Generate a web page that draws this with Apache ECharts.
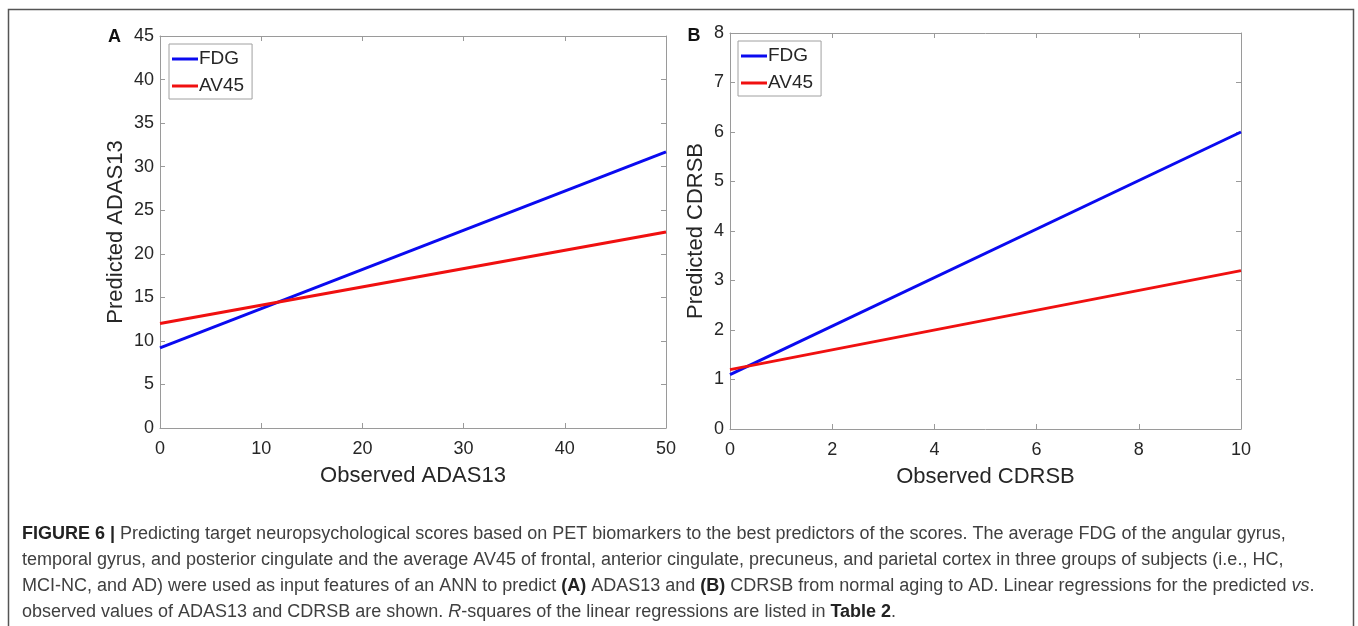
<!DOCTYPE html>
<html>
<head>
<meta charset="utf-8">
<script src="https://cdn.jsdelivr.net/npm/echarts@6/dist/echarts.min.js"></script>
<style>
html,body{margin:0;padding:0;background:#fff;}
#chart{width:1358px;height:626px;}
</style>
</head>
<body>
<div id="chart"></div>
<script>
// ---- Data ----
const seriesNames = ['FDG', 'AV45'];
// Panel A: ADAS13
const observedA = [0, 50];
const fdgA = [9.2, 31.7];
const av45A = [12.0, 22.5];
// Panel B: CDRSB
const observedB = [0, 10];
const fdgB = [1.1, 6.0];
const av45B = [1.2, 3.2];
// Axis ticks
const xTicksA = [0, 10, 20, 30, 40, 50];
const yTicksA = [0, 5, 10, 15, 20, 25, 30, 35, 40, 45];
const xTicksB = [0, 2, 4, 6, 8, 10];
const yTicksB = [0, 1, 2, 3, 4, 5, 6, 7, 8];
const axisTitles = {
  xA: 'Observed ADAS13', yA: 'Predicted ADAS13',
  xB: 'Observed CDRSB', yB: 'Predicted CDRSB'
};
const panelLabels = ['A', 'B'];
const captionLines = [
  '{b|FIGURE 6 |} Predicting target neuropsychological scores based on PET biomarkers to the best predictors of the scores. The average FDG of the angular gyrus,',
  'temporal gyrus, and posterior cingulate and the average AV45 of frontal, anterior cingulate, precuneus, and parietal cortex in three groups of subjects (i.e., HC,',
  'MCI-NC, and AD) were used as input features of an ANN to predict {b|(A)} ADAS13 and {b|(B)} CDRSB from normal aging to AD. Linear regressions for the predicted {i|vs}.',
  'observed values of ADAS13 and CDRSB are shown. {i|R}-squares of the linear regressions are listed in {b|Table 2}.'
];

// ---- Styles ----
const FONT = 'Liberation Sans, Arial, Helvetica, sans-serif';
const AXIS_COLOR = '#9a9a9a';
const TEXT_COLOR = '#262626';
const BLUE = '#0a0af0';
const RED = '#f01010';
const CAP_SIZE = 18;

function zip(xs, ys) { return xs.map((x, i) => [x, ys[i]]); }

function mainX(gi, ticks, name) {
  return {
    type: 'value', gridIndex: gi, position: 'bottom',
    min: ticks[0], max: ticks[ticks.length - 1], interval: ticks[1] - ticks[0],
    name: name, nameLocation: 'middle', nameGap: 37,
    nameTextStyle: { fontFamily: FONT, fontSize: 22, color: TEXT_COLOR },
    axisLine: { show: true, onZero: false, lineStyle: { color: AXIS_COLOR, width: 1 } },
    axisTick: { show: true, inside: true, length: 5, lineStyle: { color: AXIS_COLOR } },
    axisLabel: { margin: 12, fontFamily: FONT, fontSize: 18, color: TEXT_COLOR },
    splitLine: { show: false }
  };
}
function mainY(gi, ticks, name, gap) {
  return {
    type: 'value', gridIndex: gi, position: 'left',
    min: ticks[0], max: ticks[ticks.length - 1], interval: ticks[1] - ticks[0],
    name: name, nameLocation: 'middle', nameGap: gap,
    nameTextStyle: { fontFamily: FONT, fontSize: 22, color: TEXT_COLOR },
    axisLine: { show: true, onZero: false, lineStyle: { color: AXIS_COLOR, width: 1 } },
    axisTick: { show: true, inside: true, length: 5, lineStyle: { color: AXIS_COLOR } },
    axisLabel: { margin: 6, fontFamily: FONT, fontSize: 18, color: TEXT_COLOR },
    splitLine: { show: false }
  };
}
function boxX(gi, ticks) {
  return {
    type: 'value', gridIndex: gi, position: 'top',
    min: ticks[0], max: ticks[ticks.length - 1], interval: ticks[1] - ticks[0],
    axisLine: { show: true, onZero: false, lineStyle: { color: AXIS_COLOR, width: 1 } },
    axisTick: { show: true, inside: true, length: 5, lineStyle: { color: AXIS_COLOR } },
    axisLabel: { show: false }, splitLine: { show: false }
  };
}
function boxY(gi, ticks) {
  return {
    type: 'value', gridIndex: gi, position: 'right',
    min: ticks[0], max: ticks[ticks.length - 1], interval: ticks[1] - ticks[0],
    axisLine: { show: true, onZero: false, lineStyle: { color: AXIS_COLOR, width: 1 } },
    axisTick: { show: true, inside: true, length: 5, lineStyle: { color: AXIS_COLOR } },
    axisLabel: { show: false }, splitLine: { show: false }
  };
}
function legend(left, top) {
  return {
    left: left, top: top, orient: 'vertical',
    data: seriesNames.map(n => ({ name: n, icon: 'rect' })),
    itemWidth: 26, itemHeight: 3, itemGap: 7,
    padding: [5, 8, 3, 3],
    borderColor: '#a0a0a0', borderWidth: 1, backgroundColor: '#fff',
    textStyle: { fontFamily: FONT, fontSize: 19, color: TEXT_COLOR, lineHeight: 20, padding: [0, 0, 0, -4] },
    selectedMode: false
  };
}
function lineSeries(name, xi, yi, data, color) {
  return {
    name: name, type: 'line', xAxisIndex: xi, yAxisIndex: yi, data: data,
    symbol: 'none', color: color, lineStyle: { color: color, width: 3 },
    animation: false, silent: true
  };
}

const graphics = [
  { type: 'rect', shape: { x: 8.5, y: 9.5, width: 1345, height: 700 },
    style: { fill: 'none', stroke: '#555', lineWidth: 1.5 }, silent: true },
  { type: 'text', x: 114.5, y: 37, style: { text: panelLabels[0], fontFamily: FONT, fontSize: 18, fontWeight: 'bold', fill: '#111', align: 'center', verticalAlign: 'middle' } },
  { type: 'text', x: 694, y: 36, style: { text: panelLabels[1], fontFamily: FONT, fontSize: 18, fontWeight: 'bold', fill: '#111', align: 'center', verticalAlign: 'middle' } }
];
const captionY = [534, 560, 586, 612];
captionLines.forEach((t, i) => {
  graphics.push({
    type: 'text', x: 22, y: captionY[i],
    style: {
      text: t, fontFamily: FONT, fontSize: CAP_SIZE, fill: '#404040',
      verticalAlign: 'middle', align: 'left',
      rich: {
        b: { fontFamily: FONT, fontSize: CAP_SIZE, fontWeight: 'bold', fill: '#222' },
        i: { fontFamily: FONT, fontSize: CAP_SIZE, fontStyle: 'italic', fill: '#404040' }
      }
    }
  });
});

const option = {
  backgroundColor: '#fff',
  animation: false,
  grid: [
    { left: 160, top: 36, width: 506, height: 392, containLabel: false },
    { left: 730, top: 33, width: 511, height: 396, containLabel: false }
  ],
  xAxis: [ mainX(0, xTicksA, axisTitles.xA), boxX(0, xTicksA), mainX(1, xTicksB, axisTitles.xB), boxX(1, xTicksB) ],
  yAxis: [ mainY(0, yTicksA, axisTitles.yA, 33), boxY(0, yTicksA), mainY(1, yTicksB, axisTitles.yB, 23), boxY(1, yTicksB) ],
  legend: [ legend(169, 44), legend(738, 41) ],
  series: [
    lineSeries(seriesNames[0], 0, 0, zip(observedA, fdgA), BLUE),
    lineSeries(seriesNames[1], 0, 0, zip(observedA, av45A), RED),
    lineSeries(seriesNames[0], 2, 2, zip(observedB, fdgB), BLUE),
    lineSeries(seriesNames[1], 2, 2, zip(observedB, av45B), RED)
  ],
  graphic: graphics
};

const chart = echarts.init(document.getElementById('chart'), null, { renderer: 'canvas' });
chart.setOption(option);
</script>
</body>
</html>
